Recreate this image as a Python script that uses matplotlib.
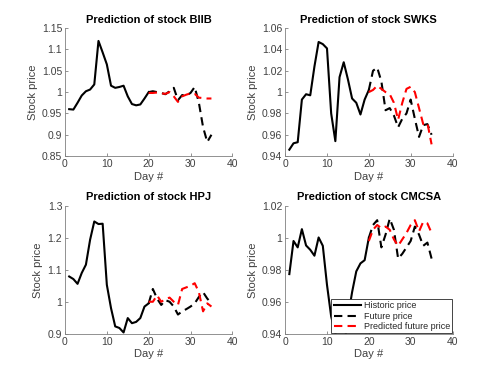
import numpy as np
import matplotlib.pyplot as plt
from matplotlib.ticker import FuncFormatter

plt.rcParams['font.family'] = ['Liberation Sans', 'DejaVu Sans']

# days
hist_days = np.arange(1, 21)
fut_days = np.arange(20, 36)

# BIIB
biib_hist = [0.960, 0.959, 0.975, 0.992, 1.002, 1.006, 1.018, 1.120, 1.093, 1.065,
             1.015, 1.010, 1.012, 1.015, 0.990, 0.972, 0.969, 0.971, 0.985, 1.000]
biib_fut = [1.000, 1.002, 1.000, 0.998, 0.995, 1.002, 1.010, 0.981, 0.993, 0.992,
            0.998, 1.012, 0.975, 0.918, 0.883, 0.900]
biib_pred = [0.998, 0.998, 0.999, 0.997, 0.996, 1.000, 0.990, 0.977, 0.990, 0.994,
             0.997, 0.996, 0.987, 0.986, 0.985, 0.985]

# SWKS
swks_hist = [0.946, 0.952, 0.953, 0.993, 0.998, 0.997, 1.024, 1.047, 1.045, 1.041,
             0.980, 0.954, 1.014, 1.028, 1.012, 0.994, 0.990, 0.979, 0.993, 1.002]
swks_fut = [1.002, 1.020, 1.023, 1.010, 0.983, 0.985, 0.978, 0.967, 0.975, 0.980,
            0.993, 0.975, 0.958, 0.969, 0.970, 0.960]
swks_pred = [1.000, 1.002, 1.006, 1.003, 1.000, 0.998, 0.990, 0.974, 0.990, 1.003,
             1.005, 1.000, 0.985, 0.970, 0.971, 0.951]

# HPJ
hpj_hist = [1.079, 1.071, 1.056, 1.090, 1.116, 1.194, 1.251, 1.243, 1.244, 1.053,
            0.980, 0.923, 0.918, 0.904, 0.949, 0.933, 0.937, 0.949, 0.985, 0.995]
hpj_fut = [0.995, 1.040, 1.010, 0.990, 1.005, 1.000, 0.985, 0.960, 0.970, 0.977,
           0.985, 0.995, 1.015, 1.030, 1.010, 0.995]
hpj_pred = [1.000, 1.000, 1.020, 1.000, 1.008, 1.013, 1.000, 0.990, 1.040, 1.045,
            1.050, 1.058, 1.030, 0.970, 0.995, 0.985]

# CMCSA
cmcsa_hist = [0.9773, 0.998, 0.994, 1.0054, 0.9952, 0.9925, 0.9888, 1.0002, 0.995, 0.9706,
              0.9508, 0.9404, 0.930, 0.930, 0.950, 0.966, 0.979, 0.984, 0.986, 1.000]
cmcsa_fut = [1.000, 1.008, 1.011, 0.994, 1.002, 1.012, 1.005, 0.987, 0.990, 0.994,
             0.998, 1.007, 1.002, 0.995, 0.997, 0.987]
cmcsa_pred = [0.998, 1.005, 1.008, 1.006, 1.007, 1.005, 0.999, 0.995, 0.999, 1.003,
              1.008, 1.011, 1.004, 1.010, 1.009, 1.003]

stocks = ['BIIB', 'SWKS', 'HPJ', 'CMCSA']
hist = [biib_hist, swks_hist, hpj_hist, cmcsa_hist]
fut = [biib_fut, swks_fut, hpj_fut, cmcsa_fut]
pred = [biib_pred, swks_pred, hpj_pred, cmcsa_pred]
ylims = [(0.85, 1.15, 0.05), (0.94, 1.06, 0.02), (0.9, 1.3, 0.1), (0.94, 1.02, 0.02)]

fig = plt.figure(figsize=(5, 3.75), dpi=100)
positions = [[0.13, 0.5838, 0.3347, 0.3412], [0.5703, 0.5838, 0.3347, 0.3412],
             [0.13, 0.11, 0.3347, 0.3412], [0.5703, 0.11, 0.3347, 0.3412]]

axc = '#404040'
for i in range(4):
    ax = fig.add_axes(positions[i])
    ax.plot(hist_days, hist[i], color='black', lw=1.5, label='Historic price')
    ax.plot(fut_days, fut[i], color='black', lw=1.5, linestyle=(0, (4, 2.5)), label='Future price')
    ax.plot(fut_days, pred[i], color='red', lw=1.5, linestyle=(0, (4, 2.5)), label='Predicted future price')
    lo, hi, st = ylims[i]
    ax.set_ylim(lo, hi)
    ax.set_yticks(np.arange(lo, hi + st / 2, st))
    ax.set_xlim(0, 40)
    ax.set_xticks([0, 10, 20, 30, 40])
    ax.yaxis.set_major_formatter(FuncFormatter(lambda v, p: '%g' % round(v, 4)))
    for s in ['top', 'right']:
        ax.spines[s].set_visible(False)
    for s in ['left', 'bottom']:
        ax.spines[s].set_color('#808080')
        ax.spines[s].set_linewidth(0.6)
    ax.tick_params(direction='in', length=2.5, width=0.6, color='#808080',
                   labelsize=7.5, labelcolor=axc, pad=2)
    ax.set_title('Prediction of stock ' + stocks[i], fontsize=8, fontweight='bold', pad=4)
    ax.set_xlabel('Day #', fontsize=8, color=axc, labelpad=2)
    ax.set_ylabel('Stock price', fontsize=8, color=axc, labelpad=3)
    if i == 3:
        leg = ax.legend(loc='lower right', fontsize=6.5, handlelength=3.0, fancybox=False,
                        framealpha=1, edgecolor='#262626', borderaxespad=0.05,
                        borderpad=0.25, labelspacing=0.15, handletextpad=0.3)
        leg.get_frame().set_linewidth(0.6)
        for t in leg.get_texts():
            t.set_color('#262626')

fig.savefig('out.png', dpi=100)
